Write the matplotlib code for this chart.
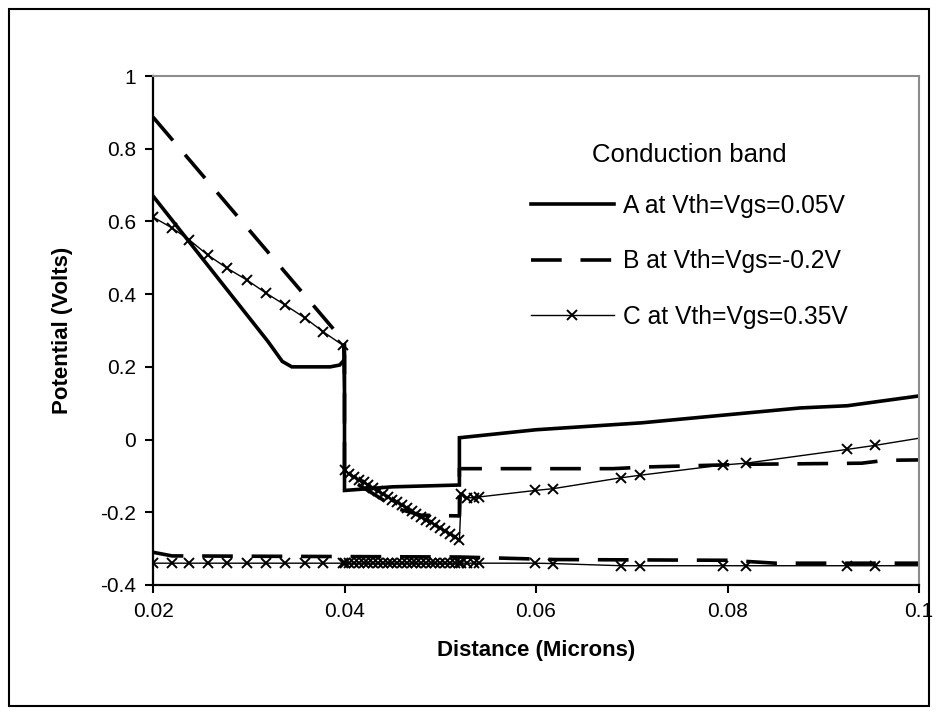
import matplotlib
matplotlib.use("Agg")
import matplotlib.pyplot as plt
from matplotlib.patches import Rectangle
from matplotlib.ticker import FixedLocator, FormatStrFormatter

plt.rcParams["font.family"] = ["Liberation Sans", "DejaVu Sans"]
plt.rcParams["axes.unicode_minus"] = False

# -------------------------------------------------------------------
# DATA
# -------------------------------------------------------------------
# A at Vth=Vgs=0.05V, conduction band
a_x = [0.02, 0.0284, 0.032, 0.0335, 0.0345, 0.0385, 0.0395, 0.04, 0.04,
       0.045, 0.052, 0.052, 0.06, 0.071, 0.0876, 0.0925, 0.1]
a_y = [0.67, 0.39, 0.27, 0.215, 0.2, 0.2, 0.205, 0.22, -0.14,
       -0.13, -0.125, 0.005, 0.027, 0.046, 0.087, 0.093, 0.12]

# B at Vth=Vgs=-0.2V, conduction band and valence band
b_x = [0.02, 0.0393, 0.04, 0.04, 0.0455, 0.048, 0.052, 0.052,
       0.068, 0.072, 0.082, 0.094, 0.0965, 0.1]
b_y = [0.887, 0.29, 0.27, -0.1, -0.19, -0.208, -0.21, -0.08,
       -0.08, -0.075, -0.068, -0.065, -0.057, -0.056]
bv_x = [0.02, 0.022, 0.052, 0.062, 0.08, 0.085, 0.1]
bv_y = [-0.31, -0.32, -0.323, -0.33, -0.332, -0.34, -0.34]

# C at Vth=Vgs=0.35V, conduction band and valence band (same x grid)
c_x = [0.02, 0.022, 0.0238, 0.0257, 0.0277, 0.0298, 0.0318, 0.0338,
       0.0359, 0.0378, 0.0398, 0.0401,
       0.0405, 0.041, 0.0415, 0.042, 0.0425, 0.043, 0.0435, 0.044,
       0.0445, 0.045, 0.0455, 0.046, 0.0465, 0.047, 0.0475, 0.048,
       0.0485, 0.049, 0.0495, 0.05, 0.0505, 0.051, 0.0515, 0.052,
       0.0522, 0.0528, 0.0535, 0.054, 0.0599, 0.0618, 0.0689, 0.0709,
       0.0795, 0.0819, 0.0925, 0.0954, 0.101]
c_y = [0.612, 0.582, 0.549, 0.508, 0.472, 0.439, 0.403, 0.37,
       0.334, 0.296, 0.26, -0.085,
       -0.095, -0.103, -0.11, -0.118, -0.126, -0.134, -0.142, -0.149,
       -0.157, -0.165, -0.173, -0.181, -0.189, -0.197, -0.205, -0.212,
       -0.22, -0.228, -0.236, -0.244, -0.251, -0.259, -0.267, -0.275,
       -0.15, -0.16, -0.16, -0.158, -0.14, -0.135, -0.105, -0.098,
       -0.07, -0.065, -0.027, -0.016, 0.008]
cv_y = [-0.34, -0.34, -0.34, -0.34, -0.34, -0.34, -0.34, -0.34,
        -0.34, -0.34, -0.34, -0.34,
        -0.34, -0.34, -0.34, -0.34, -0.34, -0.34, -0.34, -0.34,
        -0.34, -0.34, -0.34, -0.34, -0.34, -0.34, -0.34, -0.34,
        -0.34, -0.34, -0.34, -0.34, -0.34, -0.34, -0.34, -0.34,
        -0.34, -0.34, -0.34, -0.34, -0.34, -0.341, -0.347, -0.347,
        -0.347, -0.347, -0.347, -0.347, -0.347]

labels = ["A at Vth=Vgs=0.05V", "B at Vth=Vgs=-0.2V", "C at Vth=Vgs=0.35V"]
x_ticks = [0.02, 0.04, 0.06, 0.08, 0.1]
y_ticks = [-0.4, -0.2, 0, 0.2, 0.4, 0.6, 0.8, 1]

# -------------------------------------------------------------------
# PLOT
# -------------------------------------------------------------------
fig = plt.figure(figsize=(9.38, 7.15), dpi=100)
ax = fig.add_axes([153 / 938, 1 - 585 / 715, 766 / 938, 509 / 715])

dash = (0, (8.5, 5.2))
c_marks = list(range(len(c_x) - 1))

line_a, = ax.plot(a_x, a_y, color="black", lw=2.6, solid_joinstyle="miter")
line_b, = ax.plot(b_x, b_y, color="black", lw=2.6, linestyle=dash)
ax.plot(bv_x, bv_y, color="black", lw=2.6, linestyle=dash)
line_c, = ax.plot(c_x, c_y, color="black", lw=1.0, marker="x",
                  markersize=6.5, markeredgewidth=1.4, markevery=c_marks)
ax.plot(c_x, cv_y, color="black", lw=1.0, marker="x",
        markersize=6.5, markeredgewidth=1.4, markevery=c_marks)

ax.set_xlim(0.02, 0.1)
ax.set_ylim(-0.4, 1)
ax.xaxis.set_major_locator(FixedLocator(x_ticks))
ax.yaxis.set_major_locator(FixedLocator(y_ticks))
ax.xaxis.set_major_formatter(FormatStrFormatter("%g"))
ax.yaxis.set_major_formatter(FormatStrFormatter("%g"))
ax.tick_params(direction="out", length=6, width=1.5, labelsize=15,
               colors="black", pad=6)

for side in ["left", "bottom"]:
    ax.spines[side].set_linewidth(1.6)
    ax.spines[side].set_color("black")
for side in ["top", "right"]:
    ax.spines[side].set_linewidth(1.5)
    ax.spines[side].set_color("#8c8c8c")

ax.set_xlabel("Distance (Microns)", fontsize=16, fontweight="bold",
              labelpad=14)
ax.set_ylabel("Potential (Volts)", fontsize=16, fontweight="bold",
              labelpad=20)

leg = ax.legend([line_a, line_b, line_c], labels, title="Conduction band",
                loc="upper left", bbox_to_anchor=(0.464, 0.911),
                frameon=False, fontsize=17.7, title_fontsize=18.5,
                handlelength=3.4, handletextpad=0.36, labelspacing=1.28,
                numpoints=1)
leg._legend_box.sep = 19

# outer chart frame
fig.patches.append(Rectangle((9 / 938, 1 - 706 / 715), 920 / 938, 697 / 715,
                             transform=fig.transFigure, fill=False,
                             edgecolor="black", lw=1.5))

fig.savefig("out.png", dpi=100)
